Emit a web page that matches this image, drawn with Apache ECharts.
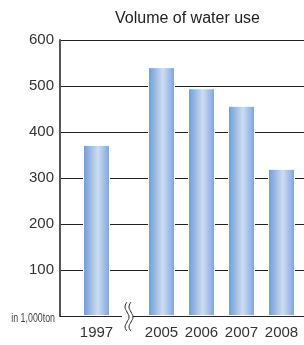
<!DOCTYPE html>
<html><head><meta charset="utf-8">
<script src="https://cdn.jsdelivr.net/npm/echarts@6/dist/echarts.min.js"></script>
<style>html,body{margin:0;padding:0;background:#fff}#c{width:304px;height:345px}</style>
</head><body><div id="c"></div>
<script>
const title = 'Volume of water use';
const unitLabel = 'in 1,000ton';
const catsBefore = ['1997'];
const valsBefore = [372];
const catsAfter = ['2005', '2006', '2007', '2008'];
const valsAfter = [541, 495, 457, 320];
const yTicks = [0, 100, 200, 300, 400, 500, 600];

const barColor = {
  type: 'linear', x: 0, y: 0, x2: 1, y2: 0,
  colorStops: [
    {offset: 0, color: '#6a9ad6'},
    {offset: 0.55, color: '#cddcf2'},
    {offset: 0.95, color: '#82aadd'},
    {offset: 1, color: '#a9c4e8'}
  ]
};
const font = 'Liberation Sans, Arial, sans-serif';
const yMax = yTicks[yTicks.length - 1];

const chart = echarts.init(document.getElementById('c'), null, {renderer: 'canvas'});
const hiddenY = i => ({
  type: 'value', gridIndex: i, min: 0, max: yMax, interval: 100,
  show: false
});
const barSeries = (i, vals) => ({
  type: 'bar', xAxisIndex: i, yAxisIndex: i, data: vals, barWidth: 27,
  itemStyle: {color: barColor, borderColor: '#ffffff', borderWidth: 1},
  z: 3, animation: false
});
const catX = (i, cats) => ({
  type: 'category', gridIndex: i, data: cats,
  axisLine: {show: false}, axisTick: {show: false},
  axisLabel: {color: '#333', fontSize: 15, fontFamily: font, margin: 9, interval: 0}
});
const squiggle = x => ({
  type: 'polyline', z: 11,
  shape: {points: [[x, 302], [x - 2, 307], [x, 312], [x + 2, 317], [x, 322], [x - 2, 327], [x, 331]], smooth: 0.5},
  style: {stroke: '#222', fill: null, lineWidth: 1}
});
const gridBase = {top: 40, bottom: 29, outerBoundsMode: 'none', containLabel: false};

chart.setOption({
  animation: false,
  grid: [
    Object.assign({left: 60, right: -20}, gridBase),
    Object.assign({left: 60, width: 73}, gridBase),
    Object.assign({left: 141.5, width: 160}, gridBase)
  ],
  xAxis: [
    {type: 'category', gridIndex: 0, data: [''],
     axisLine: {show: true, lineStyle: {color: '#222', width: 1}},
     axisTick: {show: false}, axisLabel: {show: false}, splitLine: {show: false}},
    catX(1, catsBefore),
    catX(2, catsAfter)
  ],
  yAxis: [
    {type: 'value', gridIndex: 0, min: 0, max: yMax, interval: 100,
     axisLine: {show: true, lineStyle: {color: '#555', width: 2}},
     axisTick: {show: false},
     splitLine: {show: true, lineStyle: {color: '#222', width: 1}},
     axisLabel: {
       color: '#333', fontSize: 15, fontFamily: font, margin: 6,
       formatter: v => v === 0 ? '' : String(v)
     }},
    hiddenY(1), hiddenY(2)
  ],
  graphic: [
    {type: 'text', left: 115, top: 11, z: 10,
     style: {text: title, fontSize: 16, fontFamily: font, fill: '#222'}},
    {type: 'text', x: 55, y: 318, scaleX: 0.68, z: 10,
     style: {text: unitLabel, fontSize: 13, fontFamily: font, fill: '#444', align: 'right', verticalAlign: 'middle'}},
    {type: 'rect', shape: {x: 122, y: 312, width: 11, height: 8}, style: {fill: '#fff'}, z: 10},
    squiggle(127), squiggle(131)
  ],
  series: [
    barSeries(1, valsBefore),
    barSeries(2, valsAfter)
  ]
});
</script></body></html>
